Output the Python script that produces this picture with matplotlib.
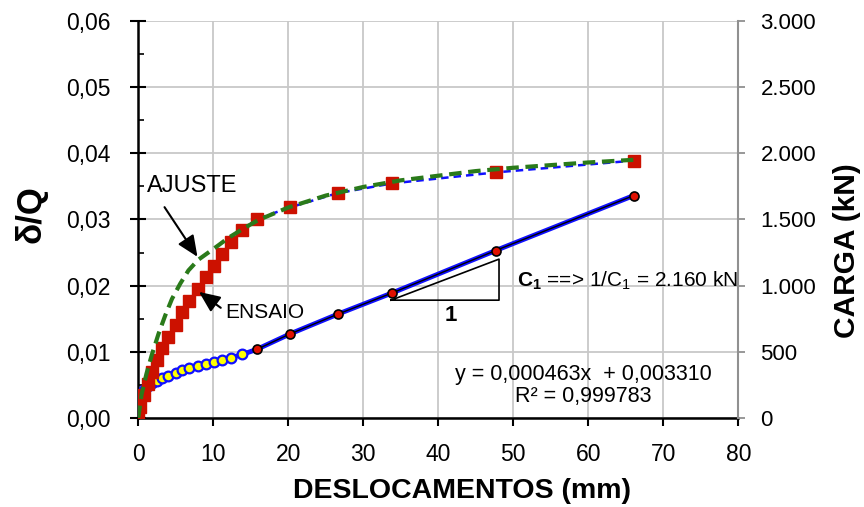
import numpy as np
import matplotlib
matplotlib.use("Agg")
import matplotlib.pyplot as plt
from matplotlib.ticker import FuncFormatter, MultipleLocator

plt.rcParams["font.family"] = "Liberation Sans"
plt.rcParams["mathtext.fontset"] = "custom"
plt.rcParams["mathtext.rm"] = "Liberation Sans"
plt.rcParams["mathtext.bf"] = "Liberation Sans:bold"

# ensaio (deslocamento x carga)
desl = [0, 0.23, 0.8, 1.33, 1.87, 2.45, 3.12, 4.0, 4.99, 5.87, 6.8, 7.92, 9.03,
        10.09, 11.2, 12.32, 13.87, 15.87, 20.23, 26.63, 33.87, 47.65, 66.05]
carga = [0, 85, 174, 254, 350, 438, 526, 609, 702, 798, 886, 974, 1062,
         1148, 1238, 1327, 1420, 1503, 1591, 1699, 1772, 1855, 1944]

# delta/Q
desl_dq = [0.23, 0.8, 1.33, 1.87, 2.45, 3.12, 4.0, 4.99, 5.87, 6.8, 7.92, 9.03,
           10.09, 11.2, 12.32, 13.87]
dq = [0.0030, 0.0043, 0.0049, 0.0053, 0.0056, 0.0060, 0.0064, 0.0068, 0.0072,
      0.0075, 0.0079, 0.0082, 0.0085, 0.0088, 0.0091, 0.0096]
desl_fit = [13.87, 15.87, 20.23, 26.63, 33.87, 47.65, 66.05]
dq_fit = [0.0096, 0.0104, 0.0127, 0.0157, 0.0189, 0.0253, 0.0336]

# ajuste
desl_aj = [0, 0.45, 1.1, 1.8, 2.7, 3.6, 4.5, 5.6, 6.7, 8.0, 9.6, 10.7, 12, 14,
           16, 20, 25, 30, 35, 40, 45, 50, 55, 60, 66]
carga_aj = [0, 180, 335, 475, 635, 775, 900, 1015, 1115, 1195, 1260, 1305, 1360,
            1430, 1495, 1590, 1680, 1745, 1795, 1830, 1865, 1890, 1910, 1930, 1950]

fig = plt.figure(figsize=(8.64, 5.07), dpi=100)
ax = fig.add_axes([0.160, 0.1755, 0.6945, 0.7835])
ax2 = ax.twinx()

ax.grid(True, color="#c8c8c8", lw=1.3)
ax.set_axisbelow(True)

# delta/Q
ax.plot(desl_dq + desl_fit[1:], dq + dq_fit[1:], color="#1010ff", lw=3.5, zorder=2)
ax.plot(desl_dq, dq, "o", ms=7, mfc="#ffff00", mec="#1010ff", mew=1.6, zorder=3)
ax.plot(desl_fit[1:], dq_fit[1:], color="k", lw=1.0, marker="o", ms=6.5,
        mfc="#e01000", mec="k", mew=1.2, zorder=4)

# carga
ax2.plot(desl, carga, color="#1010ff", lw=1.8, ls=(0, (3, 2)), zorder=2)
ax2.plot(desl, carga, "s", ms=8.5, color="#cc1100", zorder=3)
ax2.plot(desl_aj, carga_aj, color="#2a7a1a", lw=3, ls=(0, (3, 1.6)), zorder=4)

ax.set_xlim(0, 80)
ax.set_ylim(0, 0.06)
ax2.set_ylim(0, 3000)
ax.xaxis.set_major_locator(MultipleLocator(10))
ax.yaxis.set_major_locator(MultipleLocator(0.01))
ax.yaxis.set_minor_locator(MultipleLocator(0.005))
ax2.yaxis.set_major_locator(MultipleLocator(500))
ax.yaxis.set_major_formatter(FuncFormatter(lambda v, p: ("%.2f" % v).replace(".", ",")))
ax2.yaxis.set_major_formatter(FuncFormatter(
    lambda v, p: "{:,.0f}".format(v).replace(",", ".")))

ax.spines["top"].set_visible(False)
ax2.spines["top"].set_visible(False)
ax.spines["left"].set_linewidth(1.8)
ax.spines["bottom"].set_linewidth(1.8)
ax2.spines["left"].set_visible(False)
ax2.spines["bottom"].set_visible(False)
ax2.spines["right"].set_color("#909090")
ax2.spines["right"].set_linewidth(1.5)
ax.spines["right"].set_visible(False)

ax.tick_params(axis="x", direction="out", length=6, width=1.5, pad=12, labelsize=16.5)
ax.tick_params(axis="y", which="major", direction="inout", length=12, width=1.5,
               pad=14, labelsize=16.5)
ax.tick_params(axis="y", which="minor", direction="in", length=4, width=1.2)
ax2.tick_params(axis="y", direction="out", length=5, width=1.3, color="#909090",
                pad=11, labelsize=16)

fig.text(0.036, 0.577, "δ/Q", rotation=90, ha="center", va="center",
         fontsize=25, fontweight="bold")
fig.text(0.980, 0.505, "CARGA (kN)", rotation=90, ha="center", va="center",
         fontsize=21.5, fontweight="bold")
fig.text(0.535, 0.032, "DESLOCAMENTOS (mm)", ha="center", va="center",
         fontsize=20.5, fontweight="bold")

# anotacoes
arrow = dict(arrowstyle="-|>,head_length=0.8,head_width=0.35", color="k", lw=1.5,
             mutation_scale=16)
ax2.text(1.2, 0.035, "AJUSTE", transform=ax.transData, fontsize=17, va="center", zorder=6)
ax2.annotate("", xy=(8.1, 0.0240), xytext=(3.3, 0.0322), xycoords=ax.transData,
             textcoords=ax.transData, arrowprops=arrow, zorder=6)
ax2.text(11.6, 0.0160, "ENSAIO", transform=ax.transData, fontsize=15, va="center", zorder=6)
ax2.annotate("", xy=(7.8, 0.0193), xytext=(11.3, 0.0164), xycoords=ax.transData,
             textcoords=ax.transData, arrowprops=arrow, zorder=6)

ax.plot([33.7, 48.1, 48.1, 33.7], [0.0178, 0.0178, 0.0240, 0.0178], color="k", lw=1.2, zorder=3)
ax.text(41.7, 0.01555, "1", fontsize=16, fontweight="bold", ha="center", va="center")
ax.text(50.5, 0.0207, r"$\mathbf{C_1}$ ==> 1/C$_1$ = 2.160 kN", fontsize=15, va="center")
ax.text(59.3, 0.0049, "y = 0,000463x  + 0,003310\nR² = 0,999783", fontsize=15.5,
        ha="center", va="center", multialignment="center", linespacing=1.1)

plt.savefig("out.png", dpi=100)
